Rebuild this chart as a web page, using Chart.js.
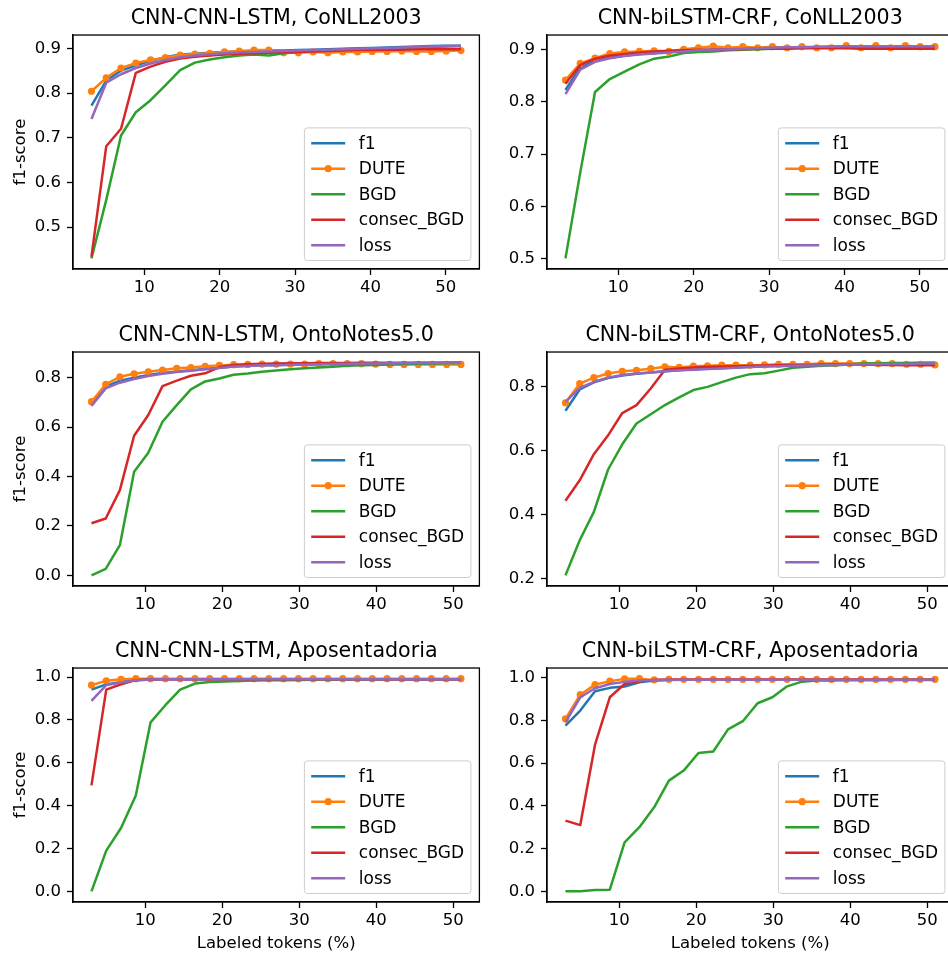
<!DOCTYPE html>
<html>
<head>
<meta charset="utf-8">
<script src="https://cdn.jsdelivr.net/npm/chart.js@4.4.0/dist/chart.umd.min.js"></script>
<style>
  html, body { margin: 0; padding: 0; background: #fff; overflow: hidden; }
  #fig { position: relative; width: 948px; height: 956px; overflow: hidden; background: #fff; }
  #fig canvas { position: absolute; }
</style>
</head>
<body>
<div id="fig"></div>
<script>
// x positions (labeled tokens, %)
const xTop = [3, 4.96, 6.92, 8.88, 10.84, 12.8, 14.76, 16.72, 18.68, 20.64, 22.6, 24.56, 26.52, 28.48, 30.44, 32.4, 34.36, 36.32, 38.28, 40.24, 42.2, 44.16, 46.12, 48.08, 50.04, 52];
const xMid = [3, 4.85, 6.69, 8.54, 10.38, 12.23, 14.08, 15.92, 17.77, 19.62, 21.46, 23.31, 25.15, 27, 28.85, 30.69, 32.54, 34.38, 36.23, 38.08, 39.92, 41.77, 43.62, 45.46, 47.31, 49.15, 51];
const xBot = [3, 4.92, 6.84, 8.76, 10.68, 12.6, 14.52, 16.44, 18.36, 20.28, 22.2, 24.12, 26.04, 27.96, 29.88, 31.8, 33.72, 35.64, 37.56, 39.48, 41.4, 43.32, 45.24, 47.16, 49.08, 51];

const seriesNames = ['f1', 'DUTE', 'BGD', 'consec_BGD', 'loss'];
const seriesColors = ['#1f77b4', '#ff7f0e', '#2ca02c', '#d62728', '#9467bd'];

// CNN-CNN-LSTM, CoNLL2003
const ccConllF1 = [0.772, 0.828, 0.850, 0.862, 0.872, 0.880, 0.886, 0.888, 0.890, 0.892, 0.893, 0.894, 0.895, 0.895, 0.896, 0.897, 0.898, 0.899, 0.900, 0.901, 0.902, 0.903, 0.904, 0.905, 0.906, 0.906];
const ccConllDute = [0.804, 0.834, 0.856, 0.867, 0.874, 0.879, 0.885, 0.887, 0.889, 0.892, 0.894, 0.896, 0.896, 0.890, 0.890, 0.892, 0.890, 0.892, 0.892, 0.893, 0.893, 0.894, 0.893, 0.893, 0.894, 0.895];
const ccConllBgd = [0.430, 0.561, 0.705, 0.757, 0.784, 0.817, 0.851, 0.868, 0.875, 0.880, 0.884, 0.886, 0.884, 0.889, 0.892, 0.894, 0.896, 0.897, 0.898, 0.899, 0.900, 0.901, 0.902, 0.903, 0.904, 0.905];
const ccConllConsec = [0.434, 0.681, 0.720, 0.845, 0.859, 0.870, 0.877, 0.881, 0.884, 0.886, 0.888, 0.889, 0.890, 0.891, 0.892, 0.893, 0.894, 0.895, 0.896, 0.896, 0.897, 0.897, 0.898, 0.898, 0.898, 0.898];
const ccConllLoss = [0.742, 0.823, 0.842, 0.856, 0.866, 0.874, 0.880, 0.884, 0.887, 0.889, 0.891, 0.892, 0.893, 0.894, 0.895, 0.896, 0.897, 0.898, 0.899, 0.900, 0.901, 0.902, 0.903, 0.904, 0.905, 0.905];

// CNN-biLSTM-CRF, CoNLL2003
const bcConllF1 = [0.823, 0.866, 0.879, 0.885, 0.889, 0.892, 0.894, 0.896, 0.898, 0.899, 0.900, 0.901, 0.902, 0.903, 0.904, 0.904, 0.905, 0.905, 0.906, 0.906, 0.906, 0.906, 0.906, 0.906, 0.906, 0.906];
const bcConllDute = [0.842, 0.874, 0.884, 0.893, 0.896, 0.897, 0.898, 0.897, 0.901, 0.904, 0.907, 0.904, 0.906, 0.904, 0.906, 0.904, 0.906, 0.904, 0.904, 0.908, 0.904, 0.908, 0.904, 0.908, 0.906, 0.906];
const bcConllBgd = [0.500, 0.665, 0.819, 0.844, 0.858, 0.872, 0.883, 0.887, 0.894, 0.896, 0.897, 0.899, 0.900, 0.901, 0.902, 0.903, 0.904, 0.905, 0.906, 0.906, 0.906, 0.905, 0.905, 0.905, 0.905, 0.905];
const bcConllConsec = [0.835, 0.871, 0.883, 0.889, 0.892, 0.895, 0.897, 0.898, 0.899, 0.900, 0.900, 0.901, 0.901, 0.902, 0.902, 0.902, 0.903, 0.903, 0.903, 0.903, 0.902, 0.902, 0.902, 0.902, 0.902, 0.902];
const bcConllLoss = [0.815, 0.862, 0.877, 0.884, 0.888, 0.891, 0.893, 0.895, 0.897, 0.899, 0.900, 0.901, 0.902, 0.903, 0.904, 0.905, 0.905, 0.906, 0.906, 0.907, 0.907, 0.907, 0.907, 0.907, 0.907, 0.907];

// CNN-CNN-LSTM, OntoNotes5.0
const ccOntoF1 = [0.693, 0.764, 0.788, 0.800, 0.811, 0.819, 0.825, 0.830, 0.835, 0.840, 0.845, 0.848, 0.850, 0.852, 0.853, 0.854, 0.855, 0.856, 0.857, 0.858, 0.858, 0.859, 0.859, 0.860, 0.860, 0.861, 0.861];
const ccOntoDute = [0.703, 0.773, 0.804, 0.816, 0.824, 0.831, 0.838, 0.841, 0.846, 0.850, 0.853, 0.854, 0.855, 0.855, 0.855, 0.855, 0.857, 0.857, 0.857, 0.857, 0.855, 0.854, 0.854, 0.854, 0.854, 0.854, 0.854];
const ccOntoBgd = [0.000, 0.026, 0.122, 0.419, 0.496, 0.622, 0.689, 0.753, 0.785, 0.797, 0.812, 0.817, 0.824, 0.829, 0.834, 0.838, 0.841, 0.844, 0.848, 0.850, 0.852, 0.854, 0.856, 0.857, 0.858, 0.859, 0.860];
const ccOntoConsec = [0.211, 0.230, 0.345, 0.565, 0.649, 0.766, 0.788, 0.808, 0.818, 0.843, 0.852, 0.855, 0.857, 0.858, 0.859, 0.859, 0.860, 0.860, 0.860, 0.861, 0.861, 0.861, 0.861, 0.861, 0.861, 0.861, 0.861];
const ccOntoLoss = [0.686, 0.757, 0.780, 0.795, 0.807, 0.816, 0.823, 0.828, 0.834, 0.839, 0.845, 0.847, 0.850, 0.851, 0.853, 0.854, 0.855, 0.856, 0.857, 0.858, 0.858, 0.859, 0.859, 0.860, 0.860, 0.861, 0.861];

// CNN-biLSTM-CRF, OntoNotes5.0
const bcOntoF1 = [0.725, 0.792, 0.814, 0.828, 0.836, 0.841, 0.845, 0.849, 0.852, 0.855, 0.857, 0.859, 0.861, 0.863, 0.865, 0.866, 0.868, 0.869, 0.870, 0.871, 0.872, 0.873, 0.874, 0.875, 0.875, 0.876, 0.876];
const bcOntoDute = [0.750, 0.810, 0.829, 0.842, 0.849, 0.852, 0.857, 0.863, 0.861, 0.865, 0.866, 0.868, 0.868, 0.868, 0.869, 0.871, 0.871, 0.871, 0.873, 0.873, 0.873, 0.873, 0.873, 0.873, 0.871, 0.871, 0.869];
const bcOntoBgd = [0.209, 0.319, 0.408, 0.541, 0.620, 0.685, 0.714, 0.743, 0.767, 0.790, 0.800, 0.815, 0.829, 0.840, 0.843, 0.851, 0.860, 0.863, 0.866, 0.868, 0.870, 0.873, 0.873, 0.874, 0.874, 0.875, 0.875];
const bcOntoConsec = [0.443, 0.507, 0.589, 0.648, 0.718, 0.743, 0.795, 0.854, 0.858, 0.861, 0.863, 0.864, 0.865, 0.866, 0.867, 0.868, 0.869, 0.869, 0.870, 0.870, 0.870, 0.870, 0.869, 0.869, 0.868, 0.868, 0.868];
const bcOntoLoss = [0.753, 0.797, 0.816, 0.829, 0.837, 0.842, 0.845, 0.849, 0.852, 0.854, 0.856, 0.858, 0.860, 0.862, 0.864, 0.865, 0.866, 0.867, 0.868, 0.869, 0.870, 0.871, 0.871, 0.872, 0.872, 0.873, 0.873];

// CNN-CNN-LSTM, Aposentadoria
const ccApoF1 = [0.942, 0.966, 0.978, 0.989, 0.990, 0.990, 0.990, 0.990, 0.990, 0.990, 0.990, 0.990, 0.990, 0.990, 0.990, 0.990, 0.990, 0.990, 0.990, 0.990, 0.990, 0.990, 0.990, 0.990, 0.990, 0.990];
const ccApoDute = [0.963, 0.983, 0.990, 0.993, 0.993, 0.993, 0.993, 0.993, 0.993, 0.993, 0.993, 0.993, 0.993, 0.993, 0.993, 0.993, 0.993, 0.993, 0.993, 0.993, 0.993, 0.993, 0.993, 0.993, 0.993, 0.993];
const ccApoBgd = [0.000, 0.190, 0.296, 0.448, 0.789, 0.869, 0.942, 0.970, 0.977, 0.980, 0.982, 0.984, 0.985, 0.986, 0.987, 0.988, 0.988, 0.989, 0.989, 0.989, 0.990, 0.990, 0.990, 0.990, 0.990, 0.990];
const ccApoConsec = [0.495, 0.942, 0.967, 0.986, 0.989, 0.990, 0.990, 0.990, 0.990, 0.990, 0.990, 0.990, 0.990, 0.990, 0.990, 0.990, 0.990, 0.990, 0.990, 0.990, 0.990, 0.990, 0.990, 0.990, 0.990, 0.990];
const ccApoLoss = [0.889, 0.963, 0.975, 0.986, 0.989, 0.990, 0.990, 0.990, 0.990, 0.990, 0.990, 0.990, 0.990, 0.990, 0.990, 0.990, 0.990, 0.990, 0.990, 0.990, 0.990, 0.990, 0.990, 0.990, 0.990, 0.990];

// CNN-biLSTM-CRF, Aposentadoria
const bcApoF1 = [0.775, 0.846, 0.936, 0.952, 0.958, 0.978, 0.986, 0.989, 0.990, 0.990, 0.990, 0.990, 0.990, 0.990, 0.990, 0.990, 0.990, 0.990, 0.990, 0.990, 0.990, 0.990, 0.990, 0.990, 0.990, 0.990];
const bcApoDute = [0.807, 0.920, 0.967, 0.983, 0.994, 0.995, 0.989, 0.992, 0.992, 0.992, 0.992, 0.992, 0.992, 0.992, 0.992, 0.992, 0.992, 0.992, 0.992, 0.992, 0.992, 0.992, 0.992, 0.992, 0.992, 0.992];
const bcApoBgd = [0.000, 0.000, 0.006, 0.008, 0.229, 0.300, 0.393, 0.518, 0.565, 0.647, 0.654, 0.758, 0.796, 0.880, 0.908, 0.959, 0.981, 0.986, 0.986, 0.987, 0.988, 0.988, 0.989, 0.989, 0.989, 0.989];
const bcApoConsec = [0.331, 0.310, 0.686, 0.908, 0.970, 0.983, 0.989, 0.990, 0.990, 0.990, 0.990, 0.990, 0.990, 0.990, 0.990, 0.990, 0.990, 0.990, 0.990, 0.990, 0.990, 0.990, 0.990, 0.990, 0.990, 0.990];
const bcApoLoss = [0.791, 0.908, 0.950, 0.970, 0.980, 0.986, 0.989, 0.990, 0.990, 0.990, 0.990, 0.990, 0.990, 0.990, 0.990, 0.990, 0.990, 0.990, 0.990, 0.990, 0.990, 0.990, 0.990, 0.990, 0.990, 0.990];

// tick values
const xTicks = [10, 20, 30, 40, 50];
const yTicksConll = [0.5, 0.6, 0.7, 0.8, 0.9];
const yTicksOntoCnn = [0.0, 0.2, 0.4, 0.6, 0.8];
const yTicksOntoCrf = [0.2, 0.4, 0.6, 0.8];
const yTicksApo = [0.0, 0.2, 0.4, 0.6, 0.8, 1.0];

const FONT = "'DejaVu Sans'";
Chart.defaults.font.family = FONT;

const panels = [
  { title: 'CNN-CNN-LSTM, CoNLL2003', x: xTop, series: [ccConllF1, ccConllDute, ccConllBgd, ccConllConsec, ccConllLoss], yTicks: yTicksConll, row: 0, col: 0 },
  { title: 'CNN-biLSTM-CRF, CoNLL2003', x: xTop, series: [bcConllF1, bcConllDute, bcConllBgd, bcConllConsec, bcConllLoss], yTicks: yTicksConll, row: 0, col: 1 },
  { title: 'CNN-CNN-LSTM, OntoNotes5.0', x: xMid, series: [ccOntoF1, ccOntoDute, ccOntoBgd, ccOntoConsec, ccOntoLoss], yTicks: yTicksOntoCnn, row: 1, col: 0 },
  { title: 'CNN-biLSTM-CRF, OntoNotes5.0', x: xMid, series: [bcOntoF1, bcOntoDute, bcOntoBgd, bcOntoConsec, bcOntoLoss], yTicks: yTicksOntoCrf, row: 1, col: 1 },
  { title: 'CNN-CNN-LSTM, Aposentadoria', x: xBot, series: [ccApoF1, ccApoDute, ccApoBgd, ccApoConsec, ccApoLoss], yTicks: yTicksApo, row: 2, col: 0 },
  { title: 'CNN-biLSTM-CRF, Aposentadoria', x: xBot, series: [bcApoF1, bcApoDute, bcApoBgd, bcApoConsec, bcApoLoss], yTicks: yTicksApo, row: 2, col: 1 },
];

// layout (pixels)
const plotLeft = [73, 547];
const canvasLeft = [0, 500];
const plotTop = [35, 352, 668];
const plotW = 410, plotH = 234, titleH = 35;
const tickFont = 16.5;
const legendFont = 17;

// matplotlib-like 5% margins
function padRange(vals) {
  const lo = Math.min(...vals), hi = Math.max(...vals);
  const m = (hi - lo) * 0.05;
  return [lo - m, hi + m];
}

// box frame + legend drawn in the lower right of the plot area
const frameAndLegend = {
  id: 'frameAndLegend',
  afterDatasetsDraw(chart) {
    const { ctx, chartArea: a } = chart;
    ctx.save();
    ctx.strokeStyle = '#000';
    ctx.lineWidth = 1.3;
    ctx.strokeRect(a.left, a.top, a.right - a.left, a.bottom - a.top);

    const fs = legendFont;
    ctx.font = fs + 'px ' + FONT;
    const sets = chart.data.datasets;
    const tw = Math.max(...sets.map(d => ctx.measureText(d.label).width));
    const pad = 0.4 * fs, hl = 2 * fs, htp = 0.8 * fs, rowH = 17, ls = 0.5 * fs;
    const w = pad * 2 + hl + htp + tw;
    const h = pad * 2 + sets.length * rowH + (sets.length - 1) * ls;
    const x0 = a.right - 0.5 * fs - w;
    const y0 = a.bottom - 0.5 * fs - h;

    ctx.beginPath();
    ctx.roundRect(x0, y0, w, h, 3);
    ctx.fillStyle = 'rgba(255,255,255,0.8)';
    ctx.fill();
    ctx.strokeStyle = '#cccccc';
    ctx.lineWidth = 1;
    ctx.stroke();

    sets.forEach((d, i) => {
      const cy = y0 + pad + rowH / 2 + i * (rowH + ls);
      const lx = x0 + pad;
      ctx.beginPath();
      ctx.moveTo(lx, cy);
      ctx.lineTo(lx + hl, cy);
      ctx.strokeStyle = d.borderColor;
      ctx.lineWidth = 2.5;
      ctx.stroke();
      if (d.pointRadius > 0) {
        ctx.beginPath();
        ctx.arc(lx + hl / 2, cy, d.pointRadius, 0, Math.PI * 2);
        ctx.fillStyle = d.borderColor;
        ctx.fill();
      }
      ctx.fillStyle = '#000';
      ctx.textBaseline = 'middle';
      ctx.fillText(d.label, lx + hl + htp, cy + 1);
    });
    ctx.restore();
  }
};

const fig = document.getElementById('fig');

panels.forEach(p => {
  const isLeft = p.col === 0;
  const isBottom = p.row === 2;
  const yW = plotLeft[p.col] - canvasLeft[p.col];
  const xH = isBottom ? 54 : 40;
  const canvas = document.createElement('canvas');
  canvas.width = yW + plotW;
  canvas.height = titleH + plotH + xH;
  canvas.style.left = canvasLeft[p.col] + 'px';
  canvas.style.top = (plotTop[p.row] - titleH) + 'px';
  fig.appendChild(canvas);

  const [xMin, xMax] = padRange(p.x);
  const [yMin, yMax] = padRange(p.series.flat());

  const datasets = p.series.map((s, i) => ({
    label: seriesNames[i],
    data: p.x.map((x, j) => ({ x: x, y: s[j] })),
    borderColor: seriesColors[i],
    backgroundColor: seriesColors[i],
    borderWidth: 2.5,
    borderJoinStyle: 'round',
    pointRadius: i === 1 ? 3.6 : 0,
    pointBorderWidth: 0,
    pointHoverRadius: 0,
    tension: 0,
    fill: false,
    order: -i
  }));

  const tickGrid = { display: true, drawOnChartArea: false, drawTicks: true, tickLength: 6, tickColor: '#000', tickWidth: 1.3 };

  new Chart(canvas, {
    type: 'line',
    data: { datasets },
    options: {
      responsive: false,
      animation: false,
      devicePixelRatio: 1,
      events: [],
      layout: { padding: 0 },
      plugins: {
        legend: { display: false },
        tooltip: { enabled: false },
        title: {
          display: true,
          text: p.title,
          fullSize: false,
          color: '#000',
          font: { family: FONT, size: 20.6, weight: 'normal' },
          padding: { top: 6, bottom: 4.3 }
        }
      },
      scales: {
        x: {
          type: 'linear',
          min: xMin,
          max: xMax,
          afterBuildTicks: s => { s.ticks = xTicks.map(v => ({ value: v })); },
          afterFit: s => { s.height = xH; },
          grid: tickGrid,
          border: { display: true, color: '#000', width: 1.3 },
          ticks: { color: '#000', font: { size: tickFont }, padding: 3, maxRotation: 0, autoSkip: false },
          title: {
            display: isBottom,
            text: 'Labeled tokens (%)',
            color: '#000',
            font: { size: tickFont },
            padding: { top: 0, bottom: 2 }
          }
        },
        y: {
          type: 'linear',
          min: yMin,
          max: yMax,
          afterBuildTicks: s => { s.ticks = p.yTicks.map(v => ({ value: v })); },
          afterFit: s => { s.width = yW; },
          grid: tickGrid,
          border: { display: true, color: '#000', width: 1.3 },
          ticks: { color: '#000', font: { size: tickFont }, padding: 6, autoSkip: false, callback: v => v.toFixed(1) },
          title: {
            display: isLeft,
            text: 'f1-score',
            color: '#000',
            font: { size: tickFont },
            padding: { top: 11, bottom: 0 }
          }
        }
      }
    },
    plugins: [frameAndLegend]
  });
});
</script>
</body>
</html>
